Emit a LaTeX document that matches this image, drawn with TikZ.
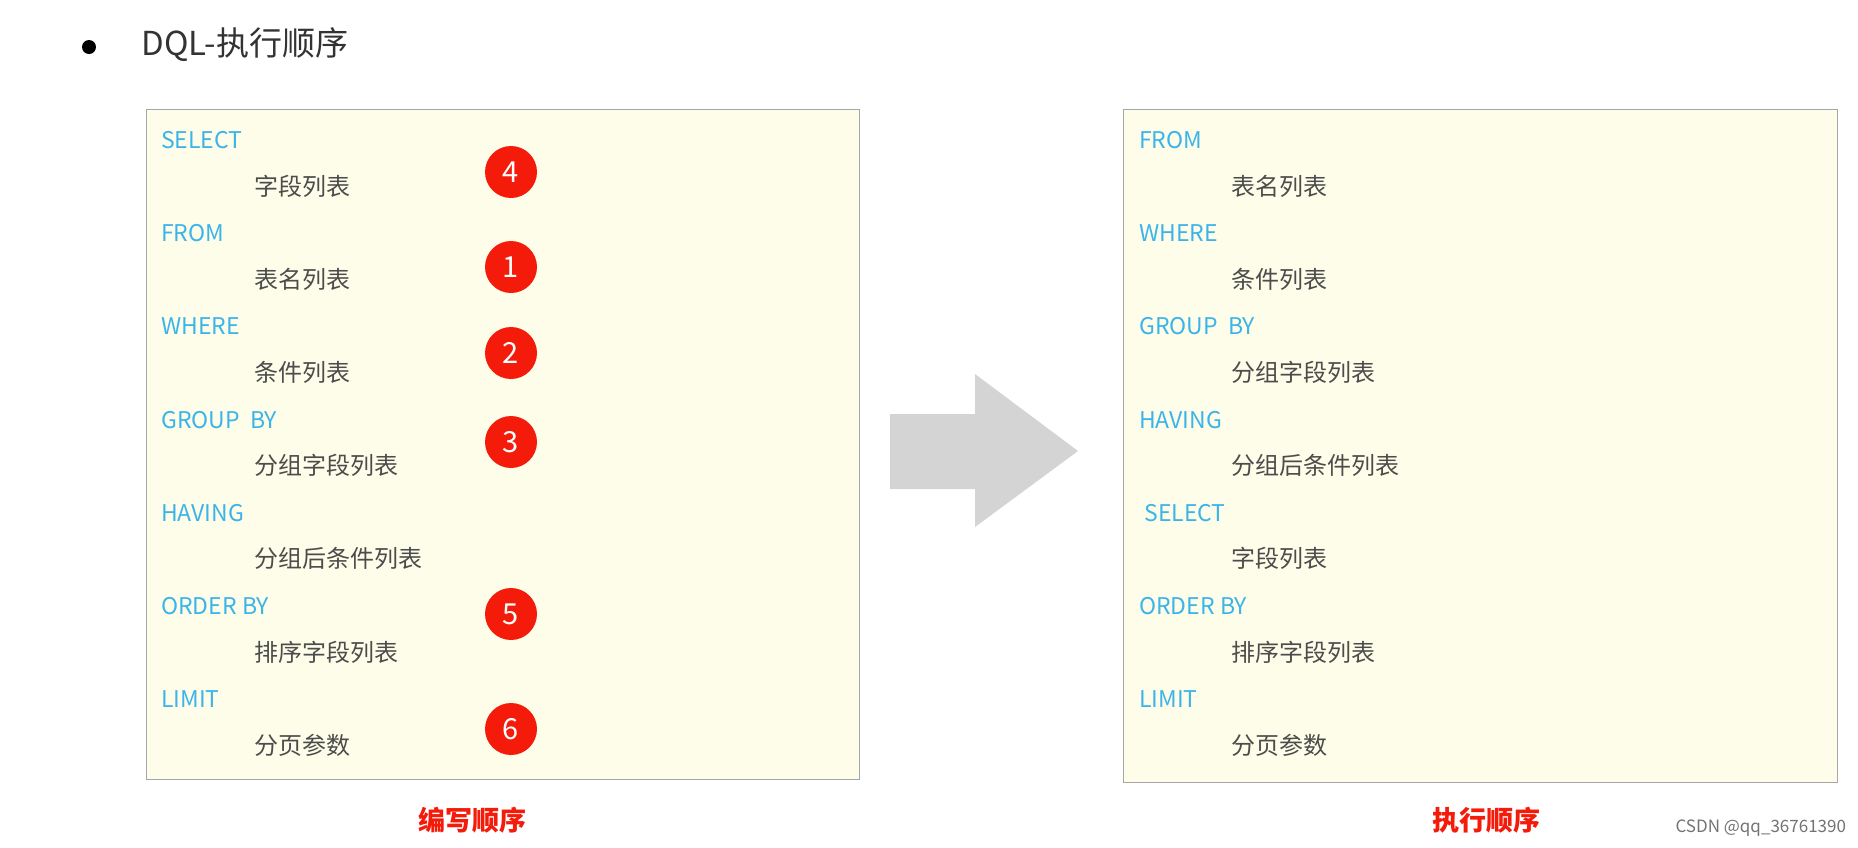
\documentclass[tikz,border=0pt]{standalone}
\usepackage{fontspec}
\setmainfont{Noto Sans CJK SC}
\usetikzlibrary{positioning}
\definecolor{kwblue}{HTML}{3BB4EA}
\definecolor{boxfill}{HTML}{FEFDE9}
\definecolor{numred}{HTML}{F51B0B}
\tikzset{
  kw/.style={anchor=west, text=kwblue, font=\fontsize{23}{25}\selectfont, inner sep=0pt},
  item/.style={anchor=west, text=black!70, font=\fontsize{24}{26}\selectfont, inner sep=0pt},
  stepnum/.style={circle, fill=numred, text=white, minimum size=52pt, inner sep=0pt, font=\fontsize{29}{31}\selectfont},
  sqlbox/.style={draw=black!35, fill=boxfill, line width=0.8pt}
}
\begin{document}
\begin{tikzpicture}[x=1pt,y=-1pt]
\useasboundingbox (0,0) rectangle (1858,847);
% title
\fill (89,47) circle (7);
\node[anchor=west, font=\fontsize{33}{35}\selectfont, text=black!80] (title) at (138,45) {DQL-执行顺序};
% boxes
\draw[sqlbox] (146,109) rectangle (859,779);
\draw[sqlbox] (1123,109) rectangle (1837,782);
% written order
\foreach \k/\t/\i in {SELECT/字段列表/0, FROM/表名列表/1, WHERE/条件列表/2, GROUP\ \ BY/分组字段列表/3, HAVING/分组后条件列表/4, ORDER BY/排序字段列表/5, LIMIT/分页参数/6}{
  \node[kw] (lk\i) at (161,{140+93.2*\i}) {\k};
  \node[item] (lt\i) at (254,{186+93.2*\i}) {\t};
}
% execution order
\foreach \k/\t/\i in {FROM/表名列表/0, WHERE/条件列表/1, GROUP\ \ BY/分组字段列表/2, HAVING/分组后条件列表/3, \ SELECT/字段列表/4, ORDER BY/排序字段列表/5, LIMIT/分页参数/6}{
  \node[kw] (rk\i) at (1139,{140+93.2*\i}) {\k};
  \node[item] (rt\i) at (1231,{186+93.2*\i}) {\t};
}
% step numbers
\foreach \n/\y in {4/172, 1/267, 2/353, 3/442, 5/614, 6/729}{
  \node[stepnum] (num\n) at (511,\y) {\n};
}
% arrow
\fill[black!17] (890,414) -- (975,414) -- (975,374) -- (1078,451) -- (975,527) -- (975,489) -- (890,489) -- cycle;
% captions
\node[text=numred, font=\fontsize{27}{29}\selectfont\bfseries] (cap1) at (472,820) {编写顺序};
\node[text=numred, font=\fontsize{27}{29}\selectfont\bfseries] (cap2) at (1486,820) {执行顺序};
\node[anchor=west, text=black!55, font=\fontsize{17}{19}\selectfont] (mark) at (1672,828) {CSDN @qq\_36761390};
\end{tikzpicture}
\end{document}
